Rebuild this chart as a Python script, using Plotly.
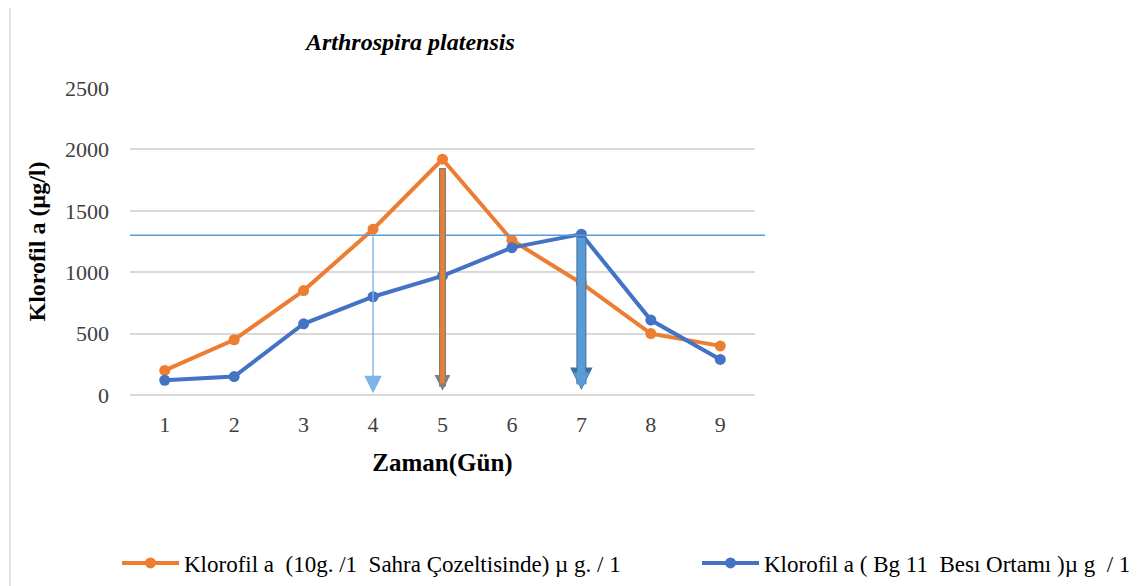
import plotly.graph_objects as go

days = [1, 2, 3, 4, 5, 6, 7, 8, 9]
sahra = [200, 450, 850, 1350, 1920, 1260, 910, 500, 400]
bg11 = [120, 150, 580, 800, 970, 1200, 1310, 610, 290]
y_ticks = [0, 500, 1000, 1500, 2000, 2500]
ref_level = 1300

name_sahra = "Klorofil a  (10g. /1  Sahra Çozeltisinde) µ g. / 1"
name_bg11 = "Klorofil a ( Bg 11  Besı Ortamı )µ g  / 1"

ORANGE = "#ED7D31"
BLUE = "#4472C4"
LBLUE = "#5B9BD5"
SERIF = "Liberation Serif"

# plot box in page pixels (page has an 8px body margin)
OFF = 8
PL, PT, PW, PH = 130, 88, 625, 307


def px(x):
    return (x - PL) / PW


def py(y):
    return (PT + PH - y) / PH


fig = go.Figure()
fig.add_trace(go.Scatter(x=days, y=sahra, name=name_sahra, mode="lines+markers",
                         line=dict(color=ORANGE, width=4), marker=dict(color=ORANGE, size=11),
                         legend="legend"))
fig.add_trace(go.Scatter(x=days, y=bg11, name=name_bg11, mode="lines+markers",
                         line=dict(color=BLUE, width=4), marker=dict(color=BLUE, size=11),
                         legend="legend2"))

# horizontal reference line
fig.add_shape(type="line", xref="paper", yref="y", x0=0, x1=px(765), y0=ref_level, y1=ref_level,
              line=dict(color=LBLUE, width=1.5))

# thin light-blue arrow at day 4
fig.add_annotation(x=4, y=15, ax=4, ay=ref_level, xref="x", yref="y", axref="x", ayref="y",
                   text="", showarrow=True, arrowhead=2, arrowsize=2.5, arrowwidth=1.4,
                   arrowcolor="#7FB2E5")
# orange arrow at day 5 (grey outline)
fig.add_annotation(x=5, y=35, ax=5, ay=1860, xref="x", yref="y", axref="x", ayref="y",
                   text="", showarrow=True, arrowhead=2, arrowsize=0.45, arrowwidth=7,
                   arrowcolor="#7F7F7F")
fig.add_annotation(x=5, y=95, ax=5, ay=1850, xref="x", yref="y", axref="x", ayref="y",
                   text="", showarrow=True, arrowhead=0, arrowwidth=4.5,
                   arrowcolor=ORANGE)
# thick blue arrow at day 7
fig.add_annotation(x=7, y=40, ax=7, ay=ref_level, xref="x", yref="y", axref="x", ayref="y",
                   text="", showarrow=True, arrowhead=2, arrowsize=0.45, arrowwidth=10,
                   arrowcolor="#41719C")
fig.add_annotation(x=7, y=53, ax=7, ay=ref_level - 8, xref="x", yref="y", axref="x", ayref="y",
                   text="", showarrow=True, arrowhead=2, arrowsize=0.4, arrowwidth=8,
                   arrowcolor=LBLUE)

# title
fig.add_annotation(text="<b><i>Arthrospira platensis</i></b>", xref="paper", yref="paper",
                   x=px(409), y=py(42), xanchor="center", yanchor="middle", showarrow=False,
                   font=dict(family=SERIF, size=24, color="#000000"))

# left frame border
fig.add_shape(type="line", xref="paper", yref="paper", x0=px(10), x1=px(10),
              y0=py(590), y1=py(4), line=dict(color="#D9D9D9", width=1.5))

legend_common = dict(orientation="h", yanchor="middle", xanchor="left", y=py(563),
                     itemwidth=57, bgcolor="rgba(0,0,0,0)",
                     font=dict(family=SERIF, size=23, color="#000000"))

fig.update_layout(
    width=1140 - OFF, height=586 - OFF,
    margin=dict(l=PL - OFF, r=1140 - PL - PW, t=PT - OFF, b=586 - PT - PH, autoexpand=False),
    paper_bgcolor="white", plot_bgcolor="white",
    font=dict(family=SERIF, size=16, color="#000000"),
    showlegend=True,
    legend=dict(x=px(117), **legend_common),
    legend2=dict(x=px(697), **legend_common),
    xaxis=dict(range=[0.5, 9.5], tickvals=days, showgrid=False, zeroline=False,
               showline=False, ticks="", automargin=False, ticklabelstandoff=14,
               tickfont=dict(size=22, color="#404040"),
               title=dict(text="<b>Zaman(Gün)</b>", font=dict(size=25, color="#000000"), standoff=17)),
    yaxis=dict(range=[0, 2500], tickvals=y_ticks, gridcolor="#D9D9D9", gridwidth=1.5,
               zeroline=True, zerolinecolor="#D9D9D9", zerolinewidth=1.5, showline=False,
               ticks="", automargin=False, ticklabelstandoff=20,
               tickfont=dict(size=22, color="#404040"),
               title=dict(text="<b>Klorofil a (µg/l)</b>", font=dict(size=24, color="#000000"),
                          standoff=12)),
)

fig.write_html("out.html")
